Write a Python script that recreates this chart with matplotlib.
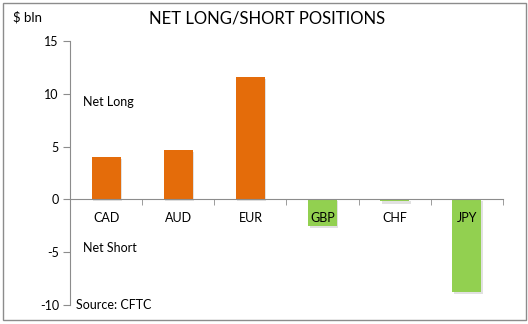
import matplotlib
matplotlib.use("Agg")
import matplotlib.pyplot as plt
import matplotlib.patheffects as pe
from matplotlib.patches import Rectangle

categories = ["CAD", "AUD", "EUR", "GBP", "CHF", "JPY"]
values = [4.0, 4.7, 11.65, -2.5, -0.2, -8.8]
yticks = [-10, -5, 0, 5, 10, 15]

plt.rcParams['font.family'] = ['Lato', 'DejaVu Sans']

fig = plt.figure(figsize=(5.28, 3.24), dpi=100)
fig.patch.set_facecolor("white")
fig.patches.append(Rectangle((3/528, 1 - 320/324), 523/528, 317/324,
                             transform=fig.transFigure, fill=False,
                             edgecolor="#8c8c8c", linewidth=1.0))

ax = fig.add_axes([70/528, 1 - 304.7/324, 433/528, (304.7 - 41.3)/324])
colors = ["#E46C0A" if v >= 0 else "#92D050" for v in values]
x = list(range(len(categories)))
bars = ax.bar(x, values, width=0.4, color=colors, zorder=2)
for b in bars:
    b.set_path_effects([pe.SimplePatchShadow(offset=(1, -1.5), shadow_rgbFace="#aaaaaa", alpha=0.35),
                        pe.Normal()])

ax.set_xlim(-0.5, len(categories) - 0.5)
ax.set_ylim(-10, 15)
ax.set_yticks(yticks)
ax.set_yticklabels([str(t) for t in yticks], fontsize=9)
ax.tick_params(axis='y', length=5, color="#8c8c8c", pad=3)

for s in ["top", "right"]:
    ax.spines[s].set_visible(False)
ax.spines["left"].set_color("#8c8c8c")
ax.spines["bottom"].set_position(("data", 0))
ax.spines["bottom"].set_color("#8c8c8c")
ax.spines["bottom"].set_zorder(3)

ax.set_xticks(x)
ax.set_xticklabels(categories, fontsize=9)
ax.tick_params(axis='x', length=0, pad=9)
ax.set_xticks([i - 0.5 for i in range(len(categories) + 1)], minor=True)
ax.tick_params(axis='x', which='minor', length=4, color="#8c8c8c")
ax.xaxis.set_zorder(5)

fig.text(13/528, 1 - 17/324, "$ bln", fontsize=9.5, va="center", ha="left")
fig.text(267/528, 1 - 19/324, "NET LONG/SHORT POSITIONS", fontsize=12, va="center", ha="center")
fig.text(83/528, 1 - 102/324, "Net Long", fontsize=9, va="center", ha="left")
fig.text(83/528, 1 - 248/324, "Net Short", fontsize=9, va="center", ha="left")
fig.text(76/528, 1 - 305/324, "Source: CFTC", fontsize=9, va="center", ha="left")

fig.savefig("out.png", dpi=100)
